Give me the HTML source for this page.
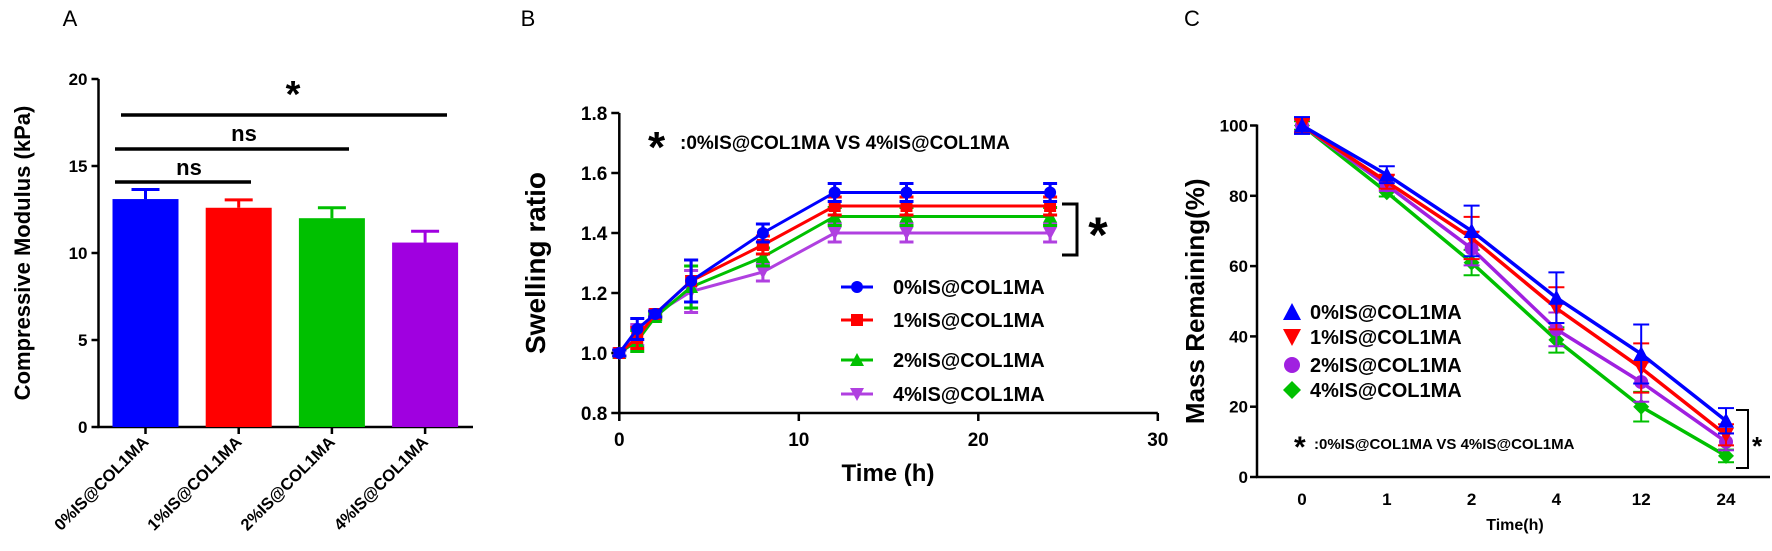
<!DOCTYPE html>
<html><head><meta charset="utf-8"><style>
html,body{margin:0;padding:0;background:#fff}
svg{display:block;font-family:"Liberation Sans",sans-serif}
</style></head><body>
<svg id="s" width="1772" height="551" viewBox="0 0 1772 551"></svg>
<script>
// Panel A data
const aCats=["0%IS@COL1MA","1%IS@COL1MA","2%IS@COL1MA","4%IS@COL1MA"];
const aVals=[13.1,12.6,12.0,10.6];
const aErr=[0.55,0.45,0.6,0.65];
const aTicks=[0,5,10,15,20];
// Panel B data
const bTimes=[0,1,2,4,8,12,16,24];
const bS0=[1.0,1.08,1.13,1.24,1.40,1.535,1.535,1.535];
const bS1=[1.0,1.05,1.13,1.24,1.36,1.49,1.49,1.49];
const bS2=[1.0,1.04,1.12,1.22,1.32,1.455,1.455,1.455];
const bS4=[1.0,1.06,1.13,1.205,1.27,1.40,1.40,1.40];
const bErr=[0.01,0.035,0.01,0.07,0.03,0.03,0.03,0.03];
const bYTicks=[0.8,1.0,1.2,1.4,1.6,1.8];
const bXTicks=[0,10,20,30];
// Panel C data
const cCats=["0","1","2","4","12","24"];
const cS0=[100,86,70,51,35,16];
const cS1=[100,84,68,48,31,12];
const cS2=[100,83,65,42,27,10];
const cS4=[100,81,61,39,20,6];
const cErr=[2,2,6,6,7,3];
const cYTicks=[0,20,40,60,80,100];
const seriesNames=["0%IS@COL1MA","1%IS@COL1MA","2%IS@COL1MA","4%IS@COL1MA"];

const S=document.getElementById('s');
const NS="http://www.w3.org/2000/svg";
function el(tag,attrs,parent,text){const e=document.createElementNS(NS,tag);for(const k in attrs)e.setAttribute(k,attrs[k]);if(text!==undefined)e.textContent=text;(parent||S).appendChild(e);return e;}
function grp(name){const g=el('g',{});return g;}
function txt(g,x,y,t,sz,opt){opt=opt||{};const e=el('text',{x:x,y:y,'font-size':sz,'font-weight':opt.w||'bold','text-anchor':opt.a||'middle',fill:'#000'},g,t);if(opt.tr)e.setAttribute('transform',opt.tr);return e;}
function line(g,x1,y1,x2,y2,c,w){return el('line',{x1:x1,y1:y1,x2:x2,y2:y2,stroke:c||'#000','stroke-width':w||2.5},g);}
function marker(g,type,x,y,c,r){
  r=r||7;let e;
  if(type==='circle')e=el('circle',{cx:x,cy:y,r:r,fill:c},g);
  else if(type==='square')e=el('rect',{x:x-r,y:y-r,width:2*r,height:2*r,fill:c},g);
  else if(type==='up')e=el('polygon',{points:`${x},${y-r-1} ${x-r-1},${y+r} ${x+r+1},${y+r}`,fill:c},g);
  else if(type==='down')e=el('polygon',{points:`${x},${y+r+1} ${x-r-1},${y-r} ${x+r+1},${y-r}`,fill:c},g);
  else if(type==='diamond')e=el('polygon',{points:`${x},${y-r-1} ${x+r+1},${y} ${x},${y+r+1} ${x-r-1},${y}`,fill:c},g);
  return e;}

// ---------- Panel A ----------
(function(){
const g=grp('panel-a');
const X0=98.5,Y0=427,Y20=79,XE=473;
const y=v=>Y0-(v-0)*(Y0-Y20)/20;
const cx=i=>145.5+i*93.2;
const colors=['#0000ff','#ff0000','#00c000','#a000e0'];
txt(g,70,26,'A',22,{w:'normal',n:'panel-label-a'});
line(g,X0,Y20,X0,Y0+1);line(g,X0-1,Y0,XE,Y0);
aTicks.forEach(t=>{line(g,X0-7,y(t),X0,y(t));txt(g,X0-11,y(t)+6,String(t),17,{a:'end',n:'y-tick-label'});});
aCats.forEach((c,i)=>{
  const b=el('rect',{x:cx(i)-33,y:y(aVals[i]),width:66,height:Y0-y(aVals[i]),fill:colors[i]},g);
  
  line(g,cx(i),y(aVals[i]),cx(i),y(aVals[i]+aErr[i]),colors[i],3);
  line(g,cx(i)-14,y(aVals[i]+aErr[i]),cx(i)+14,y(aVals[i]+aErr[i]),colors[i],3);
  line(g,cx(i),Y0,cx(i),Y0+7);
  txt(g,cx(i)+4,Y0+16,c,16.5,{a:'end',tr:`rotate(-45 ${cx(i)+4} ${Y0+16})`,n:'x-tick-label'});
});
txt(g,30,y(10),'Compressive Modulus (kPa)',22,{tr:`rotate(-90 30 ${y(10)})`,n:'y-axis-title'});
line(g,121,115,447,115,'#000',3.5);line(g,115,149,349,149,'#000',3.5);line(g,115,182,251,182,'#000',3.5);
txt(g,293,107,'*',38,{n:'sig-star'});
txt(g,244,141,'ns',22,{n:'sig-ns'});txt(g,189,175,'ns',22,{n:'sig-ns'});
})();

// ---------- Panel B ----------
(function(){
const g=grp('panel-b');
const X0=619.3,Y0=413;
const x=t=>X0+t*17.95;
const y=v=>Y0-(v-0.8)*300;
txt(g,528,26,'B',22,{w:'normal',n:'panel-label-b'});
line(g,X0,y(1.8),X0,Y0+1);line(g,X0-1,Y0,x(30),Y0);
bYTicks.forEach(t=>{line(g,X0-8,y(t),X0,y(t));txt(g,X0-12,y(t)+7,t.toFixed(1),19,{a:'end',n:'y-tick-label'});});
bXTicks.forEach(t=>{line(g,x(t),Y0,x(t),Y0+8);txt(g,x(t),Y0+33,String(t),19,{n:'x-tick-label'});});
txt(g,545,y(1.3),'Swelling ratio',28,{tr:`rotate(-90 545 ${y(1.3)})`,n:'y-axis-title'});
txt(g,888,481,'Time (h)',24,{n:'x-axis-title'});
const ser=[[bS4,'#b040e0','down'],[bS2,'#00c000','up'],[bS1,'#ff0000','square'],[bS0,'#0000ff','circle']];
ser.forEach(([d,c,m])=>{
  const sg=el('g',{},g);
  el('polyline',{points:bTimes.map((t,i)=>x(t)+','+y(d[i])).join(' '),fill:'none',stroke:c,'stroke-width':3},sg);
  bTimes.forEach((t,i)=>{const e=bErr[i];line(sg,x(t),y(d[i]-e),x(t),y(d[i]+e),c,3);
    line(sg,x(t)-7,y(d[i]-e),x(t)+7,y(d[i]-e),c,3);line(sg,x(t)-7,y(d[i]+e),x(t)+7,y(d[i]+e),c,3);
    marker(sg,m,x(t),y(d[i]),c,6);});
});
const lg=grp('legend-b');
[['circle','#0000ff'],['square','#ff0000'],['up','#00c000'],['down','#b040e0']].forEach(([m,c],i)=>{
  const yy=[287,320,360,394][i];
  line(lg,841,yy,873,yy,c,3);marker(lg,m,857,yy,c,6);
  txt(lg,893,yy+7,seriesNames[i],20,{a:'start',n:'legend-entry'});
});
txt(g,648,162,'*',44,{a:'start',n:'annotation-star'});
txt(g,680,149,':0%IS@COL1MA VS 4%IS@COL1MA',19,{a:'start',n:'annotation'});
el('polyline',{points:'1062,204 1077,204 1077,255 1062,255',fill:'none',stroke:'#000','stroke-width':3},g);
txt(g,1098,252,'*',50,{n:'bracket-star'});
})();

// ---------- Panel C ----------
(function(){
const g=grp('panel-c');
const X0=1257,Y0=477;
const x=i=>1302+i*84.8;
const y=v=>Y0-v*3.515;
txt(g,1192,26,'C',22,{w:'normal',n:'panel-label-c'});
line(g,X0,y(100)-1,X0,Y0+1);line(g,X0-1,Y0,1770,Y0);
cYTicks.forEach(t=>{line(g,X0-7,y(t),X0,y(t));txt(g,X0-9,y(t)+6,String(t),17,{a:'end',n:'y-tick-label'});});
cCats.forEach((c,i)=>{txt(g,x(i),Y0+28,c,17,{n:'x-tick-label'});});
txt(g,1204,y(50),'Mass Remaining(%)',26,{tr:`rotate(-90 1204 ${y(50)})`,n:'y-axis-title'});
txt(g,1515,530,'Time(h)',16,{n:'x-axis-title'});
const ser=[[cS4,'#00c000','diamond'],[cS2,'#a020e0','circle'],[cS1,'#ff0000','down'],[cS0,'#0000ff','up']];
ser.forEach(([d,c,m],k)=>{
  const sg=el('g',{},g);
  el('polyline',{points:cCats.map((t,i)=>x(i)+','+y(d[i])).join(' '),fill:'none',stroke:c,'stroke-width':3.5},sg);
  cCats.forEach((t,i)=>{const e=cErr[i]*(0.6+0.2*k);line(sg,x(i),y(d[i]-e),x(i),y(d[i]+e),c,2);
    line(sg,x(i)-8,y(d[i]-e),x(i)+8,y(d[i]-e),c,2);line(sg,x(i)-8,y(d[i]+e),x(i)+8,y(d[i]+e),c,2);
    marker(sg,m,x(i),y(d[i]),c,7);});
});
const lg=grp('legend-c');
[['up','#0000ff'],['down','#ff0000'],['circle','#a020e0'],['diamond','#00c000']].forEach(([m,c],i)=>{
  const yy=[312,337,365,390][i];
  marker(lg,m,1292,yy,c,8);
  txt(lg,1310,yy+7,seriesNames[i],20,{a:'start',n:'legend-entry'});
});
txt(g,1294,457,'*',30,{a:'start',n:'annotation-star'});
txt(g,1314,449,':0%IS@COL1MA VS 4%IS@COL1MA',15,{a:'start',n:'annotation'});
el('polyline',{points:'1736,410 1748,410 1748,468 1736,468',fill:'none',stroke:'#000','stroke-width':2},g);
txt(g,1757,455,'*',26,{n:'bracket-star'});
})();
</script>
</body></html>
